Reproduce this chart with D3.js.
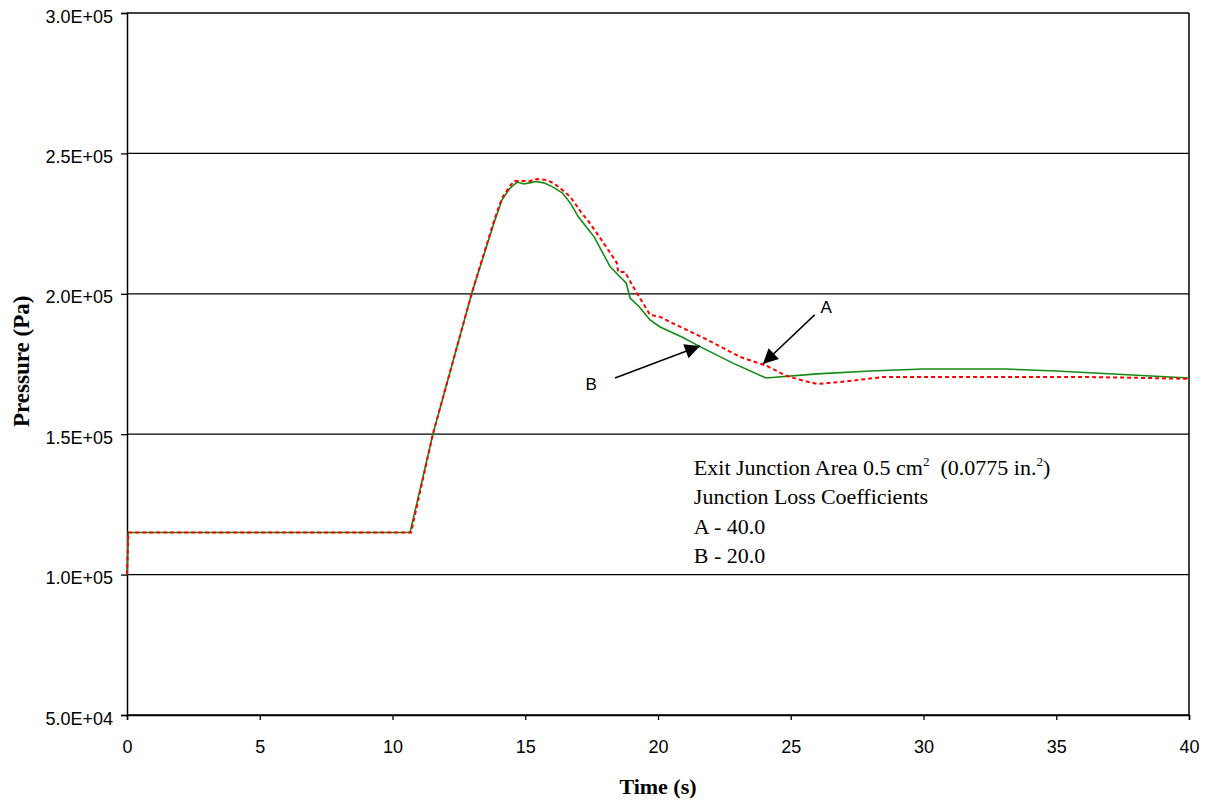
<!DOCTYPE html>
<html>
<head>
<meta charset="utf-8">
<script src="https://cdn.jsdelivr.net/npm/d3@7"></script>
<style>
body{margin:0;background:#fff;}
</style>
</head>
<body>
<svg width="1208" height="804"></svg>
<script>
// curve A: loss coefficient 40.0 (red, dotted)
const timeA=[0,0.05,10.7,11.52,12.25,12.98,13.3,13.86,14.12,14.43,14.6,15.2,15.44,15.8,16.05,16.4,16.7,17.1,17.4,17.8,18.45,18.5,18.75,19.2,19.7,20.1,20.45,21.8,23.1,24.1,24.85,25.5,26.0,26.85,27.9,28.5,30.1,36,38.5,40];
const presA=[100000,115000,115000,150000,175000,200000,210000,227000,234000,238500,240200,240200,240900,240500,239500,237000,234500,229100,225600,220200,211000,207800,207800,200300,192500,191700,190000,183900,177500,174300,170700,169000,167900,168600,169700,170400,170400,170400,170000,169700];
// curve B: loss coefficient 20.0 (green, solid)
const timeB=[0,0.05,10.66,11.52,12.25,12.98,13.3,13.86,14.12,14.43,14.7,14.95,15.2,15.4,15.7,16.05,16.4,16.7,17.0,17.6,18.2,18.5,18.8,18.95,19.3,19.7,20.08,20.9,21.6,22.8,24.07,26,28,30,33.1,35,40];
const presB=[100000,115000,115000,150000,175000,200000,209600,226300,233400,237700,239800,239100,239600,240000,239500,238000,235900,232300,227400,220200,209600,206700,203900,198500,195300,190700,188200,184600,181100,175400,170000,171500,172500,173200,173200,172500,170000];

const xTicks=[0,5,10,15,20,25,30,35,40];
const yTicks=[50000,100000,150000,200000,250000,300000];

const noteLines=["Exit Junction Area 0.5 cm","Junction Loss Coefficients","A - 40.0","B - 20.0"];
// arrows: label, label position, tail, tip (data units)
const arrows=[
  {label:'A',lx:26.33,ly:195300,tx:25.9,ty:192500,hx:23.95,hy:175000},
  {label:'B',lx:17.48,ly:167900,tx:18.38,ty:170000,hx:21.58,hy:181400}
];

const svg=d3.select('svg');
const margin={top:13,right:19,bottom:89,left:127};
const width=+svg.attr('width');
const height=+svg.attr('height');
const innerW=width-margin.left-margin.right;
const innerH=height-margin.top-margin.bottom;

const x=d3.scaleLinear().domain([0,40]).range([0,innerW]);
const y=d3.scaleLinear().domain([50000,300000]).range([innerH,0]);

const g=svg.append('g').attr('transform',`translate(${margin.left},${margin.top})`);

// gridlines
g.selectAll('.grid').data(yTicks).enter().append('line')
  .attr('x1',0).attr('x2',innerW)
  .attr('y1',d=>y(d)).attr('y2',d=>y(d))
  .attr('stroke','#000').attr('stroke-width',1.3);
g.append('line').attr('x1',innerW).attr('x2',innerW).attr('y1',0).attr('y2',innerH)
  .attr('stroke','#000').attr('stroke-width',1.5);

const fmt=d=>{let s=d.toExponential(1).toUpperCase();return s.replace(/E([+-])(\d)$/,'E$10$2');};

const yAxis=g.append('g').call(d3.axisLeft(y).tickValues(yTicks).tickFormat(fmt).tickSize(6).tickPadding(8));
yAxis.selectAll('.tick text').attr('dy','0.5em');
const xAxis=g.append('g').attr('transform',`translate(0,${innerH})`)
  .call(d3.axisBottom(x).tickValues(xTicks).tickFormat(d3.format('d')).tickSize(5).tickPadding(20));
[yAxis,xAxis].forEach(a=>{
  a.attr('font-family','"Liberation Sans",Arial,sans-serif').attr('font-size',18);
  a.select('.domain').attr('stroke','#000').attr('stroke-width',1.5);
  a.selectAll('.tick line').attr('stroke','#000').attr('stroke-width',1.3);
  a.selectAll('.tick text').attr('fill','#000');
});

const line=d3.line().x(d=>x(d[0])).y(d=>y(d[1]));

g.append('path').datum(timeB.map((t,i)=>[t,presB[i]]))
  .attr('d',line).attr('fill','none').attr('stroke','#138a13').attr('stroke-width',1.6);
g.append('path').datum(timeA.map((t,i)=>[t,presA[i]]))
  .attr('d',line).attr('fill','none').attr('stroke','#ff0000').attr('stroke-width',2)
  .attr('stroke-dasharray','4,3');

// arrowheads
svg.append('defs').append('marker').attr('id','head')
  .attr('viewBox','0 0 10 10').attr('refX',10).attr('refY',5)
  .attr('markerWidth',20).attr('markerHeight',15).attr('markerUnits','userSpaceOnUse')
  .attr('orient','auto')
  .append('path').attr('d','M0,0L10,5L0,10Z').attr('fill','#000');

arrows.forEach(a=>{
  g.append('line').attr('x1',x(a.tx)).attr('y1',y(a.ty)).attr('x2',x(a.hx)).attr('y2',y(a.hy))
    .attr('stroke','#000').attr('stroke-width',1.5).attr('marker-end','url(#head)');
  g.append('text').attr('x',x(a.lx)).attr('y',y(a.ly)).attr('dy','0.36em')
    .attr('text-anchor','middle').attr('font-family','"Liberation Sans",Arial,sans-serif')
    .attr('font-size',17).text(a.label);
});

// note block
const note=g.append('text').attr('font-family','"Liberation Serif","Times New Roman",serif')
  .attr('font-size',22).attr('fill','#000');
noteLines.forEach((s,i)=>{
  const t=note.append('tspan').attr('x',x(21.35)).attr('y',y(135500)+i*29.5).text(s);
  if(i===0){
    t.append('tspan').attr('font-size',13).attr('dy',-9).text('2');
    t.append('tspan').attr('dy',9).text('\u00a0\u00a0(0.0775 in.');
    t.append('tspan').attr('font-size',13).attr('dy',-9).text('2');
    t.append('tspan').attr('dy',9).text(')');
  }
});

// axis titles
svg.append('text').attr('x',margin.left+innerW/2).attr('y',794)
  .attr('text-anchor','middle').attr('font-family','"Liberation Serif","Times New Roman",serif')
  .attr('font-weight','bold').attr('font-size',22).text('Time (s)');
svg.append('text').attr('transform',`translate(29,427)rotate(-90)`)
  .attr('text-anchor','start').attr('font-family','"Liberation Serif","Times New Roman",serif')
  .attr('font-weight','bold').attr('font-size',23).text('Pressure (Pa)');
</script>
</body>
</html>
